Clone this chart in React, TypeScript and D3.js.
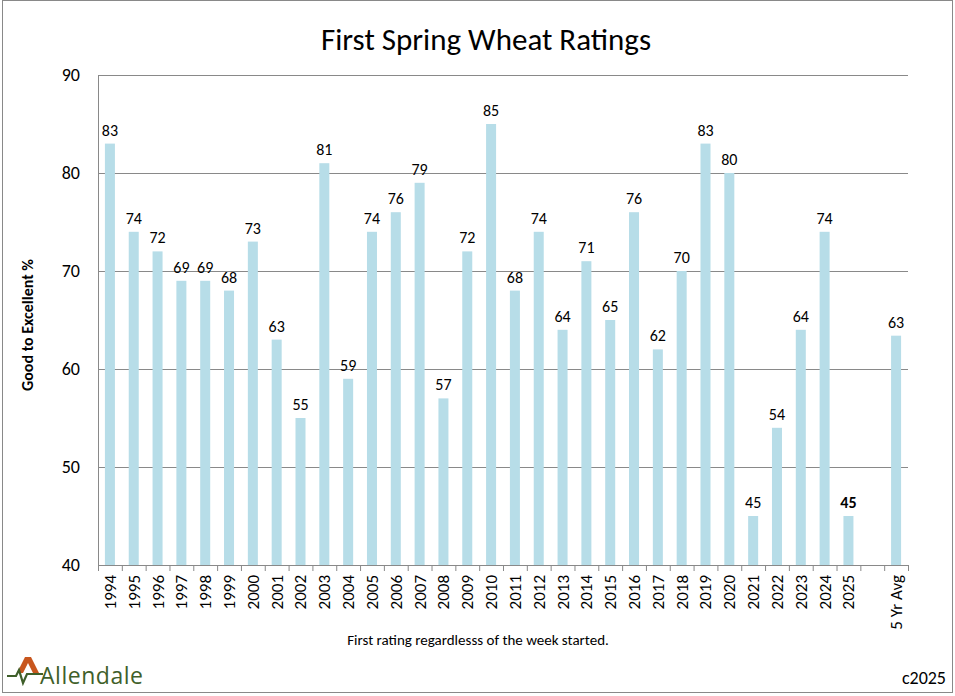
import { useEffect, useRef } from 'react'
import * as d3 from 'd3'

const years = ['1994', '1995', '1996', '1997', '1998', '1999', '2000', '2001', '2002', '2003', '2004', '2005', '2006', '2007', '2008', '2009', '2010', '2011', '2012', '2013', '2014', '2015', '2016', '2017', '2018', '2019', '2020', '2021', '2022', '2023', '2024', '2025']
const ratings = [83, 74, 72, 69, 69, 68, 73, 63, 55, 81, 59, 74, 76, 79, 57, 72, 85, 68, 74, 64, 71, 65, 76, 62, 70, 83, 80, 45, 54, 64, 74, 45]
const avgLabel = '5 Yr Avg'
const avgValue = 63.4
const yTicks = [40, 50, 60, 70, 80, 90]

const FONT = "Carlito, 'Open Sans', 'Noto Sans', sans-serif"

export default function App() {
  const svgRef = useRef<SVGSVGElement>(null)

  useEffect(() => {
    if (!svgRef.current) return
    document.body.style.margin = '0'
    const width = 955
    const height = 696
    const margin = { top: 75, right: 47, bottom: 131, left: 98 }
    const innerWidth = width - margin.left - margin.right
    const innerHeight = height - margin.top - margin.bottom

    const data = years.map((y, i) => ({ cat: y, value: ratings[i], bold: y === '2025' }))
    data.push({ cat: '', value: NaN, bold: false })
    data.push({ cat: avgLabel, value: avgValue, bold: false })

    const x = d3.scaleBand().domain(data.map(d => d.cat)).range([0, innerWidth]).paddingInner(0.58).paddingOuter(0.29)
    const y = d3.scaleLinear().domain([40, 90]).range([innerHeight, 0])

    const svg = d3.select(svgRef.current)
    svg.selectAll('*').remove()
    svg.attr('width', width).attr('height', height)

    svg.append('rect').attr('x', 0).attr('y', 0).attr('width', width).attr('height', height).attr('fill', '#fff')
    svg.append('rect').attr('x', 2.5).attr('y', 0.5).attr('width', 950).attr('height', 692)
      .attr('fill', 'none').attr('stroke', '#898989')

    svg.append('text').attr('x', 486).attr('y', 50).attr('text-anchor', 'middle')
      .style('font-family', FONT).style('font-size', '31px').attr('fill', '#000')
      .text('First Spring Wheat Ratings')

    const g = svg.append('g').attr('transform', `translate(${margin.left},${margin.top})`)

    // gridlines
    g.append('g').selectAll('line').data(yTicks).join('line')
      .attr('x1', 0).attr('x2', innerWidth)
      .attr('y1', d => y(d) + 0.5).attr('y2', d => y(d) + 0.5)
      .attr('stroke', '#898989').attr('stroke-width', 1)

    g.append('line').attr('x1', 0.5).attr('x2', 0.5).attr('y1', 0).attr('y2', innerHeight)
      .attr('stroke', '#898989')

    g.append('g').selectAll('text').data(yTicks).join('text')
      .attr('x', -18).attr('y', d => y(d)).attr('dy', '0.35em').attr('text-anchor', 'end')
      .style('font-family', FONT).style('font-size', '18px').attr('fill', '#000')
      .text(d => d)

    // x ticks at band boundaries
    const step = x.step()
    const x0 = x(data[0].cat)! - x.paddingOuter() * step
    const bounds = d3.range(data.length + 1).map(i => x0 + i * step)
    g.append('g').selectAll('line').data(bounds).join('line')
      .attr('x1', d => d + 0.5).attr('x2', d => d + 0.5)
      .attr('y1', innerHeight).attr('y2', innerHeight + 6)
      .attr('stroke', '#898989')

    const bars = data.filter(d => !isNaN(d.value))
    g.append('g').selectAll('rect').data(bars).join('rect')
      .attr('x', d => x(d.cat)!)
      .attr('width', x.bandwidth())
      .attr('y', d => y(d.value))
      .attr('height', d => innerHeight - y(d.value))
      .attr('fill', '#b7dde8')

    g.append('g').selectAll('text').data(bars).join('text')
      .attr('x', d => x(d.cat)! + x.bandwidth() / 2)
      .attr('y', d => y(d.value) - 8)
      .attr('text-anchor', 'middle')
      .style('font-family', FONT).style('font-size', '16px')
      .style('font-weight', d => d.bold ? 'bold' : 'normal')
      .attr('fill', '#000')
      .text(d => Math.round(d.value))

    g.append('g').selectAll('text').data(data.filter(d => d.cat !== '')).join('text')
      .attr('transform', d => `translate(${x(d.cat)! + x.bandwidth() / 2},${innerHeight + 10}) rotate(-90)`)
      .attr('dy', '0.35em').attr('text-anchor', 'end')
      .style('font-family', FONT).style('font-size', '17px').attr('fill', '#000')
      .text(d => d.cat)

    svg.append('text').attr('transform', 'translate(33,325) rotate(-90)').attr('text-anchor', 'middle')
      .style('font-family', FONT).style('font-size', '16px').style('font-weight', 'bold').attr('fill', '#000')
      .text('Good to Excellent %')

    svg.append('text').attr('x', 478).attr('y', 645).attr('text-anchor', 'middle')
      .style('font-family', FONT).style('font-size', '15px').attr('fill', '#000')
      .text('First rating regardlesss of the week started.')

    svg.append('text').attr('x', 946).attr('y', 684).attr('text-anchor', 'end')
      .style('font-family', FONT).style('font-size', '18px').attr('fill', '#000')
      .text('c2025')

    // logo
    const logo = svg.append('g').attr('transform', 'translate(7,657)')
    logo.append('path').attr('d', 'M10,16 L18,0 L24,0 L32,16 L26,16 L21,6 L16,16 Z').attr('fill', '#c8561e')
    logo.append('path').attr('d', 'M0,19 L9,19 L12,13 L16,26 L20,17 L36,17')
      .attr('fill', 'none').attr('stroke', '#3f5f2a').attr('stroke-width', 2.2)
    logo.append('text').attr('x', 33).attr('y', 27)
      .style('font-family', "'Open Sans', sans-serif").style('font-size', '23px')
      .attr('textLength', 103).attr('fill', '#3f5f2a')
      .text('Allendale')
  }, [])

  return <svg ref={svgRef} style={{ display: 'block' }} />
}
